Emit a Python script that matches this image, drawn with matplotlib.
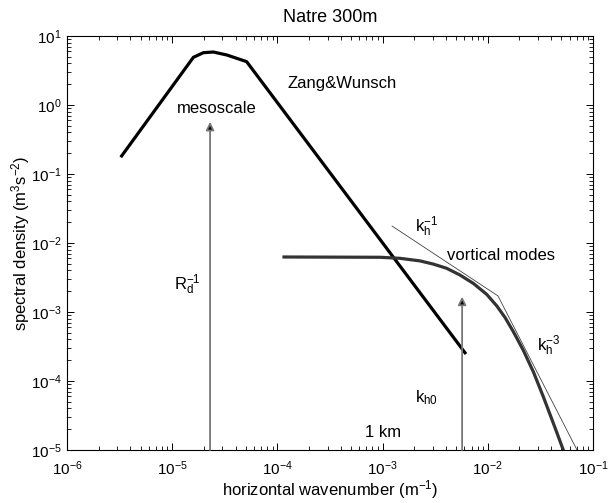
import matplotlib
matplotlib.use("Agg")
import matplotlib.pyplot as plt
from matplotlib.ticker import LogLocator, LogFormatterMathtext, NullFormatter

plt.rcParams['font.family'] = ['Liberation Sans', 'DejaVu Sans']
plt.rcParams['mathtext.fontset'] = 'custom'
plt.rcParams['mathtext.rm'] = 'Liberation Sans'
plt.rcParams['mathtext.it'] = 'Liberation Sans'
plt.rcParams['mathtext.default'] = 'regular'

# Zang & Wunsch spectrum
zw_k = [3.24e-6, 1.59e-5, 1.98e-5, 2.46e-5, 3.30e-5, 5.10e-5, 6.2e-3]
zw_E = [0.175, 4.91, 5.73, 5.86, 5.31, 4.25, 2.46e-4]

# vortical modes spectrum
vm_k = [1.156e-4, 9.44e-4, 1.46e-3, 2.27e-3, 3.03e-3, 4.06e-3, 5.45e-3,
        7.28e-3, 9.77e-3, 1.22e-2, 1.46e-2, 1.75e-2, 2.17e-2, 2.71e-2,
        3.37e-2, 4.20e-2, 5.22e-2]
vm_E = [6.27e-3, 6.21e-3, 6.0e-3, 5.5e-3, 4.95e-3, 4.30e-3, 3.43e-3,
        2.60e-3, 1.80e-3, 1.22e-3, 8.3e-4, 5.18e-4, 2.81e-4, 1.36e-4,
        5.92e-5, 2.44e-5, 1.0e-5]

# reference slopes k^-1 and k^-3
ref_k = [1.23e-3, 1.25e-2, 7.05e-2]
ref_E = [1.76e-2, 1.71e-3, 1.0e-5]

# arrows: (wavenumber, top value)
arrow_k = [2.29e-5, 5.7e-3]
arrow_top = [0.57, 1.67e-3]

fig = plt.figure(figsize=(6.13, 5.03), dpi=100)
ax = fig.add_axes([67/613, 1 - 450/503, (593-67)/613, (450-36)/503])

ax.plot(zw_k, zw_E, color='black', lw=2.3, solid_joinstyle='round', solid_capstyle='butt')
ax.plot(vm_k, vm_E, color='#333333', lw=2.3, solid_joinstyle='round')
ax.plot(ref_k, ref_E, color='#444444', lw=0.6)

for k, top in zip(arrow_k, arrow_top):
    ax.annotate('', xy=(k, top), xytext=(k, 1e-5),
                arrowprops=dict(arrowstyle='-|>', ec='#777777', fc='black',
                                lw=1.3, mutation_scale=12, shrinkA=0, shrinkB=0))

fs = 12
ax.text(1.11e-5, 0.766, 'mesoscale', fontsize=fs, ha='left', va='baseline')
ax.text(1.24e-4, 1.76, 'Zang&Wunsch', fontsize=fs, ha='left', va='baseline')
ax.text(1.04e-5, 2.08e-3, r'$R_d^{-1}$', fontsize=fs, ha='left', va='baseline')
ax.text(2.03e-3, 1.46e-2, r'$k_h^{-1}$', fontsize=fs, ha='left', va='baseline')
ax.text(4.06e-3, 5.68e-3, 'vortical modes', fontsize=fs, ha='left', va='baseline')
ax.text(2.92e-2, 2.75e-4, r'$k_h^{-3}$', fontsize=fs, ha='left', va='baseline')
ax.text(2.03e-3, 4.85e-5, r'$k_{h0}$', fontsize=fs, ha='left', va='baseline')
ax.text(6.8e-4, 1.53e-5, '1 km', fontsize=fs, ha='left', va='baseline')

ax.set_xscale('log')
ax.set_yscale('log')
ax.set_xlim(1e-6, 1e-1)
ax.set_ylim(1e-5, 1e1)

ax.xaxis.set_major_locator(LogLocator(base=10, numticks=10))
ax.yaxis.set_major_locator(LogLocator(base=10, numticks=10))
ax.xaxis.set_minor_locator(LogLocator(base=10, subs=range(2, 10), numticks=20))
ax.yaxis.set_minor_locator(LogLocator(base=10, subs=range(2, 10), numticks=20))
ax.xaxis.set_major_formatter(LogFormatterMathtext())
ax.yaxis.set_major_formatter(LogFormatterMathtext())
ax.xaxis.set_minor_formatter(NullFormatter())
ax.yaxis.set_minor_formatter(NullFormatter())

ax.tick_params(which='both', direction='in', top=True, right=True, labelsize=11)
ax.tick_params(which='major', length=5, width=0.7)
ax.tick_params(which='minor', length=3, width=0.6)
ax.tick_params(axis='x', which='major', pad=7)
ax.tick_params(axis='y', which='major', pad=4)
for s in ax.spines.values():
    s.set_linewidth(0.8)

ax.set_xlabel(r'horizontal wavenumber (m$^{-1}$)', fontsize=12)
ax.set_ylabel(r'spectral density (m$^{3}$s$^{-2}$)', fontsize=12)
ax.xaxis.set_label_coords(0.5, -(490 - 450) / 414, transform=ax.transAxes)
ax.yaxis.set_label_coords(-(67 - 21) / 526, 0.5, transform=ax.transAxes)
ax.xaxis.label.set_va('center')
ax.yaxis.label.set_va('center')
ax.set_title('Natre 300m', fontsize=13, pad=10)

fig.savefig('out.png', dpi=100)
